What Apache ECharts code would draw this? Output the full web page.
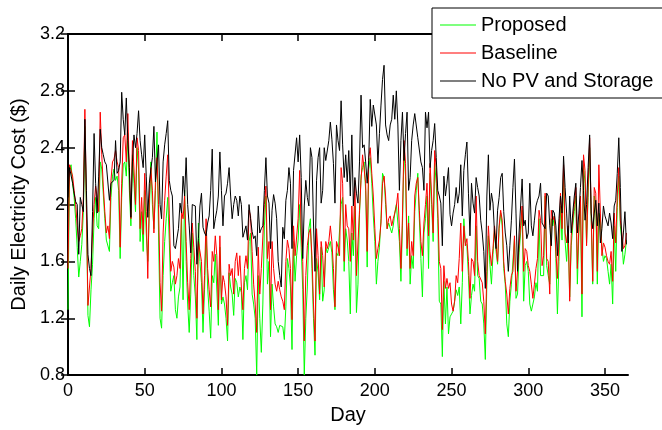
<!DOCTYPE html>
<html>
<head>
<meta charset="utf-8">
<script src="https://cdn.jsdelivr.net/npm/echarts@6/dist/echarts.min.js"></script>
<style>html,body{margin:0;padding:0;background:#fff;}#c{width:662px;height:430px;}</style>
</head>
<body>
<div id="c"></div>
<script>
// Daily electricity cost ($), one value per day, day 0..364
var noPV = [
2.05,2.26,2.26,2.15,2.08,2.02,2.0,1.65,2.05,2.0,
1.95,2.6,2.1,1.65,1.55,1.5,1.95,2.5,2.15,1.94,
2.2,2.53,2.4,2.35,2.3,2.28,2.27,2.03,2.15,2.16,
2.17,2.45,2.22,2.24,2.3,2.79,2.6,2.49,2.75,2.45,
2.26,1.91,2.3,2.49,2.4,2.5,2.66,2.45,2.35,2.26,
2.49,2.2,1.91,2.15,2.25,2.33,2.55,2.16,2.3,2.42,
2.0,1.9,2.3,2.42,2.5,2.59,2.17,2.1,2.06,1.71,
1.69,1.69,1.83,2.01,1.94,2.2,2.06,2.33,2.0,1.85,
1.66,2.0,1.99,1.99,1.58,1.76,1.99,2.08,1.84,1.8,
1.78,1.87,1.92,2.1,2.39,1.83,1.9,1.96,2.06,2.37,
2.1,1.85,2.06,2.08,2.15,2.26,2.06,1.9,2.0,2.06,
2.03,1.92,2.06,2.0,1.77,1.77,1.85,1.75,2.0,1.9,
1.81,1.76,1.78,1.64,1.99,1.8,1.83,1.85,2.1,2.33,
2.06,2.01,1.69,1.96,2.07,2.01,1.9,1.6,1.5,1.42,
1.84,1.76,2.03,2.1,2.26,2.15,1.69,2.24,2.24,2.47,
2.3,2.49,2.19,1.62,1.99,2.17,2.05,1.99,2.4,2.33,
1.87,1.53,2.17,2.33,2.4,2.01,2.1,2.4,2.31,2.31,
2.45,2.58,2.46,2.29,2.01,2.56,2.45,2.38,2.73,2.42,
2.19,2.35,2.16,2.38,2.06,2.49,1.99,2.19,2.08,2.01,
2.3,2.77,2.4,2.42,2.3,2.15,2.31,2.74,2.55,2.7,
2.69,2.56,2.29,2.5,2.7,2.88,2.98,2.56,2.49,2.45,
2.56,2.6,2.77,2.6,2.8,2.56,2.1,2.45,2.65,2.31,
2.5,2.65,2.1,2.19,2.45,2.56,2.64,2.63,2.47,2.46,
2.3,2.26,2.1,2.65,2.54,2.65,2.26,2.38,2.45,2.57,
2.33,2.1,2.06,2.01,1.71,2.2,2.06,2.15,2.26,1.93,
1.85,1.94,2.0,2.12,2.01,2.08,2.28,1.92,2.24,2.35,
2.44,2.08,1.78,2.15,2.01,1.94,2.19,2.12,2.06,1.89,
1.8,1.67,1.41,2.06,2.35,1.96,2.08,2.01,1.8,1.69,
1.96,2.05,2.19,2.22,1.95,1.8,1.71,1.53,1.71,1.89,
2.12,2.32,1.94,1.53,1.8,1.99,2.18,1.85,1.89,1.76,
1.8,2.15,1.85,1.78,1.89,1.99,2.03,2.06,2.15,1.87,
1.85,1.83,2.08,2.06,1.85,1.71,1.96,1.94,1.85,1.64,
1.9,2.06,1.94,2.34,2.12,1.94,1.73,2.06,1.8,1.94,
2.06,2.15,1.8,1.94,2.12,2.31,2.1,1.89,2.0,2.26,
2.49,1.94,1.83,1.94,2.03,1.85,2.01,1.73,1.83,1.99,
1.92,1.92,1.85,1.94,1.87,1.76,1.99,2.03,2.22,2.47,
2.12,1.67,1.8,1.95,1.72
];
var baseline = [
1.55,2.28,2.28,2.2,2.1,2.0,1.85,1.74,1.78,1.83,
2.05,2.67,2.0,1.29,1.28,1.55,1.8,2.0,2.13,2.05,
1.95,2.65,2.35,2.13,1.95,1.8,1.85,1.76,2.17,2.3,
2.32,2.38,2.3,2.26,1.7,2.15,2.47,2.49,2.3,2.64,
2.22,1.9,2.45,2.25,2.0,2.47,2.38,1.83,2.05,1.79,
2.22,1.95,1.48,2.04,2.26,2.1,1.8,2.16,2.33,2.0,
1.45,1.25,1.8,2.03,2.2,2.35,1.94,1.53,1.6,1.56,
1.44,1.5,1.62,1.55,1.96,1.9,2.06,1.74,1.45,1.26,
1.62,1.87,1.7,1.53,1.2,1.74,1.74,1.6,1.23,1.5,
1.9,1.55,1.4,1.28,1.67,1.6,1.78,1.64,1.26,1.78,
1.33,1.5,1.45,1.35,1.15,1.58,1.5,1.55,1.37,1.6,
1.66,1.5,1.64,1.42,1.26,1.55,1.64,1.55,1.96,1.92,
1.67,1.44,1.3,1.1,1.7,1.37,1.55,1.55,2.0,2.13,
1.62,1.74,1.26,1.74,1.55,1.44,1.39,1.46,1.4,1.35,
1.32,1.26,1.6,1.75,1.69,1.55,1.19,1.85,1.64,1.64,
1.9,2.24,1.8,1.6,1.04,1.5,1.71,1.8,1.83,1.64,
1.3,1.04,1.83,1.64,1.37,1.74,1.64,1.42,1.74,1.69,
1.74,1.85,1.74,1.55,1.28,1.74,1.7,1.64,2.26,2.15,
1.6,2.0,1.85,1.83,1.6,1.99,1.75,2.17,1.5,1.5,
1.96,2.17,2.35,2.36,2.15,1.67,2.33,2.4,2.22,2.06,
1.83,1.62,1.69,1.75,1.87,2.15,2.2,2.06,1.83,1.9,
1.92,1.85,1.9,1.94,1.99,2.08,1.83,1.55,1.92,2.45,
2.29,1.69,1.87,1.55,1.74,1.64,2.06,2.15,2.19,1.96,
1.74,1.64,1.87,2.0,2.15,1.78,2.29,2.06,1.8,2.38,
2.26,1.99,1.6,1.55,1.12,1.57,1.41,1.48,1.41,1.45,
1.3,1.25,1.32,1.5,1.45,1.62,1.87,1.53,1.85,1.71,
1.76,1.6,1.34,1.62,1.6,1.5,2.06,1.6,1.5,1.5,
1.45,1.32,1.09,1.53,1.85,1.67,1.57,1.69,1.85,1.71,
1.6,1.85,1.96,1.89,1.6,1.46,1.37,1.23,1.41,1.5,
1.53,1.78,1.39,1.53,1.71,1.85,1.99,1.53,1.69,1.67,
1.57,1.53,1.44,1.34,1.44,1.55,1.62,1.96,1.89,1.57,
1.64,2.08,1.62,1.6,1.37,1.96,1.89,1.92,1.67,1.48,
1.75,2.08,1.83,2.28,1.8,1.73,1.85,1.32,1.78,1.89,
2.0,2.12,1.55,1.85,2.06,1.37,2.35,2.24,1.71,2.12,
2.47,1.94,1.46,2.12,2.08,1.53,2.28,1.94,1.64,1.73,
1.7,1.64,1.6,1.58,1.67,1.46,1.94,1.73,2.06,2.26,
1.89,1.8,1.69,1.71,1.8
];
var proposed = [
1.26,2.25,2.28,2.15,2.05,1.9,1.7,1.49,1.6,1.72,
1.95,2.55,1.95,1.22,1.14,1.4,1.58,1.9,2.05,1.85,
1.83,2.3,2.25,2.25,1.9,1.75,1.75,1.67,2.05,2.2,
2.25,2.17,2.2,2.1,1.62,2.05,2.28,2.3,2.2,2.5,
2.1,1.85,2.35,2.15,1.95,2.4,2.25,1.74,1.95,1.67,
2.1,1.8,1.6,1.95,2.3,2.0,1.83,2.1,2.51,1.8,
1.2,1.13,1.5,1.74,1.9,2.05,1.75,1.39,1.45,1.5,
1.26,1.2,1.35,1.42,1.92,1.33,2.1,1.6,1.3,1.1,
1.37,1.8,1.5,1.35,1.05,1.87,1.6,1.45,1.1,1.4,
1.82,1.42,1.25,1.06,1.5,1.45,1.65,1.64,1.15,1.7,
1.3,1.35,1.3,1.2,1.04,1.52,1.42,1.37,1.22,1.48,
1.45,1.35,1.42,1.38,1.05,1.45,1.5,1.4,1.74,1.8,
1.37,1.3,1.2,0.8,1.5,1.2,0.96,1.3,1.85,2.06,
1.44,1.6,1.07,1.44,1.28,1.16,1.14,1.1,1.15,1.14,
1.14,1.05,1.28,1.62,1.55,1.42,0.98,1.74,1.46,1.64,
1.75,2.0,1.7,1.4,0.8,1.2,1.42,1.83,1.9,1.55,
1.2,0.94,1.62,1.52,1.33,1.7,1.32,1.4,1.7,1.66,
1.7,1.74,1.66,1.4,1.26,1.66,1.64,1.64,2.0,2.05,
1.53,1.83,1.75,1.6,1.23,1.8,1.64,1.99,1.24,1.44,
1.93,2.2,2.26,2.3,2.1,1.56,2.25,2.33,2.15,1.92,
1.74,1.44,1.6,1.7,1.9,2.22,2.19,2.0,1.83,1.87,
1.87,1.8,1.85,1.94,2.0,2.0,1.74,1.46,1.85,2.38,
2.2,1.64,1.92,1.44,1.64,1.55,1.95,2.1,2.22,1.9,
1.62,1.35,1.8,1.9,2.06,1.55,2.22,2.0,1.74,2.29,
2.15,1.9,1.32,1.3,0.93,1.46,1.16,1.42,1.09,1.21,
1.23,1.25,1.32,1.4,1.36,1.42,1.16,1.45,1.9,1.73,
1.71,1.5,1.23,1.36,1.44,1.39,1.85,1.5,1.48,1.32,
1.3,1.16,0.91,1.44,1.78,1.58,1.44,1.65,1.83,1.67,
1.58,1.83,1.94,1.85,1.55,1.44,1.16,1.07,1.32,1.44,
1.45,1.76,1.34,1.37,1.66,1.8,1.96,1.32,1.57,1.6,
1.53,1.3,1.25,1.3,1.35,1.45,1.39,1.9,1.5,1.5,
1.5,2.06,1.57,1.5,1.44,1.9,1.85,1.92,1.62,1.23,
1.6,1.99,1.75,2.24,1.74,1.6,1.8,1.35,1.71,1.85,
1.95,2.06,1.44,1.8,2.0,1.21,2.28,2.15,1.73,2.05,
2.4,1.9,1.44,2.06,2.0,1.44,1.94,1.9,1.71,1.6,
1.64,1.62,1.53,1.44,1.58,1.3,1.85,1.53,1.98,2.2,
1.85,1.75,1.58,1.65,1.75
];
var seriesNames = ['Proposed', 'Baseline', 'No PV and Storage'];

function pairs(arr) { return arr.map(function (v, i) { return [i, v]; }); }

var FONT = '"Liberation Sans", Arial, Helvetica, sans-serif';
var chart = echarts.init(document.getElementById('c'), null, { renderer: 'canvas' });
var tickStyle = { show: true, inside: true, length: 7, lineStyle: { color: '#000', width: 1.5 } };
var lineStyle = { show: true, lineStyle: { color: '#000', width: 2 } };
chart.setOption({
  animation: false,
  backgroundColor: '#fff',
  textStyle: { fontFamily: FONT },
  grid: { left: 68, right: 34, top: 34, bottom: 47, containLabel: false },
  legend: {
    data: seriesNames,
    orient: 'vertical',
    left: 432, top: 8,
    padding: [7, 40, 7, 8],
    itemGap: 8,
    itemWidth: 36, itemHeight: 1,
    icon: 'rect',
    backgroundColor: '#fff',
    borderColor: '#000', borderWidth: 1,
    textStyle: { fontSize: 20, color: '#000', fontFamily: FONT },
    z: 20
  },
  xAxis: [{
    type: 'value', min: 0, max: 365, interval: 50,
    axisLine: lineStyle, axisTick: tickStyle, splitLine: { show: false },
    axisLabel: { fontSize: 18, color: '#000', margin: 7, fontFamily: FONT, showMaxLabel: false },
    name: 'Day', nameLocation: 'middle', nameGap: 26,
    nameTextStyle: { fontSize: 20, color: '#000', fontFamily: FONT }
  }, {
    type: 'value', position: 'top', min: 0, max: 365, interval: 50,
    axisLine: lineStyle, axisTick: tickStyle, splitLine: { show: false },
    axisLabel: { show: false }
  }],
  yAxis: [{
    type: 'value', min: 0.8, max: 3.2, interval: 0.4,
    axisLine: lineStyle, axisTick: tickStyle, splitLine: { show: false },
    axisLabel: { fontSize: 18, color: '#000', margin: 3, fontFamily: FONT,
      formatter: function (v) { return String(Math.round(v * 10) / 10); } },
    name: 'Daily Electricity Cost ($)', nameLocation: 'middle', nameGap: 38,
    nameTextStyle: { fontSize: 20, color: '#000', fontFamily: FONT }
  }, {
    type: 'value', position: 'right', min: 0.8, max: 3.2, interval: 0.4,
    axisLine: lineStyle, axisTick: tickStyle, splitLine: { show: false },
    axisLabel: { show: false }
  }],
  series: [
    { name: seriesNames[0], type: 'line', data: pairs(proposed), symbol: 'none', showSymbol: false,
      lineStyle: { color: '#00ff00', width: 1 }, itemStyle: { color: '#00ff00' }, z: 2 },
    { name: seriesNames[1], type: 'line', data: pairs(baseline), symbol: 'none', showSymbol: false,
      lineStyle: { color: '#ff0000', width: 1 }, itemStyle: { color: '#ff0000' }, z: 3 },
    { name: seriesNames[2], type: 'line', data: pairs(noPV), symbol: 'none', showSymbol: false,
      lineStyle: { color: '#000000', width: 1 }, itemStyle: { color: '#000000' }, z: 4 }
  ]
});
</script>
</body>
</html>
